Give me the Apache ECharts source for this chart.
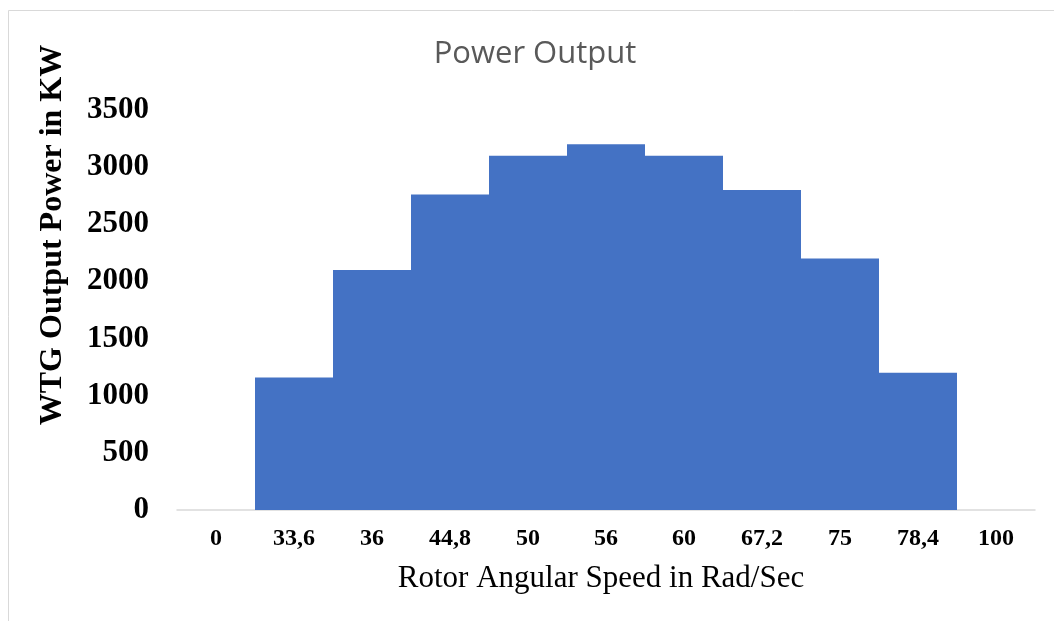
<!DOCTYPE html>
<html>
<head>
<meta charset="utf-8">
<title>Power Output</title>
<script src="https://cdn.jsdelivr.net/npm/echarts@6/dist/echarts.min.js"></script>
<style>
  html, body { margin: 0; padding: 0; background: #fff; }
  #main { width: 1054px; height: 621px; }
</style>
</head>
<body>
<div id="main"></div>
<script>
  // rotor speed categories (rad/s), written as in the source with decimal commas
  const speeds = ['0', '33,6', '36', '44,8', '50', '56', '60', '67,2', '75', '78,4', '100']
  // WTG output power in kW
  const power = [0, 1160, 2100, 2760, 3100, 3200, 3100, 2800, 2200, 1200, 0]

  const chart = echarts.init(document.getElementById('main'))
  chart.setOption({
    backgroundColor: '#fff',
    animation: false,
    graphic: [
      {
        // outer chart frame
        type: 'rect',
        shape: { x: 8.5, y: 10.5, width: 1060, height: 630 },
        style: { fill: 'none', stroke: '#d9d9d9', lineWidth: 1 },
        silent: true
      }
    ],
    title: {
      text: 'Power Output',
      left: 530,
      top: 34,
      textAlign: 'center',
      textStyle: {
        fontFamily: 'Open Sans',
        fontSize: 31,
        fontWeight: 'normal',
        color: '#595959'
      }
    },
    grid: { left: 177, right: 19, top: 110, bottom: 111 },
    xAxis: {
      type: 'category',
      data: speeds,
      name: 'Rotor Angular Speed in Rad/Sec',
      nameLocation: 'middle',
      nameGap: 53,
      nameTextStyle: {
        fontFamily: 'Liberation Serif',
        fontSize: 31,
        color: '#000',
        padding: [0, 10, 0, 0]
      },
      axisLine: { lineStyle: { color: '#d9d9d9', width: 1.5 } },
      axisTick: { show: false },
      axisLabel: {
        margin: 17,
        fontFamily: 'Liberation Serif',
        fontWeight: 'bold',
        fontSize: 24,
        color: '#000'
      }
    },
    yAxis: {
      type: 'value',
      min: 0,
      max: 3500,
      interval: 500,
      name: 'WTG Output Power in KW',
      nameLocation: 'middle',
      nameGap: 108,
      nameTextStyle: {
        fontFamily: 'Liberation Serif',
        fontWeight: 'bold',
        fontSize: 32,
        color: '#000',
        // shift the rotated title upward, as in the source
        padding: [0, 0, 0, 150]
      },
      axisLine: { show: false },
      axisTick: { show: false },
      splitLine: { show: false },
      axisLabel: {
        margin: 28,
        fontFamily: 'Liberation Serif',
        fontWeight: 'bold',
        fontSize: 31,
        color: '#000',
        formatter: (v) => String(v)
      }
    },
    series: [
      {
        type: 'bar',
        data: power,
        barCategoryGap: 0,
        itemStyle: { color: '#4472C4' }
      }
    ]
  })
</script>
</body>
</html>
